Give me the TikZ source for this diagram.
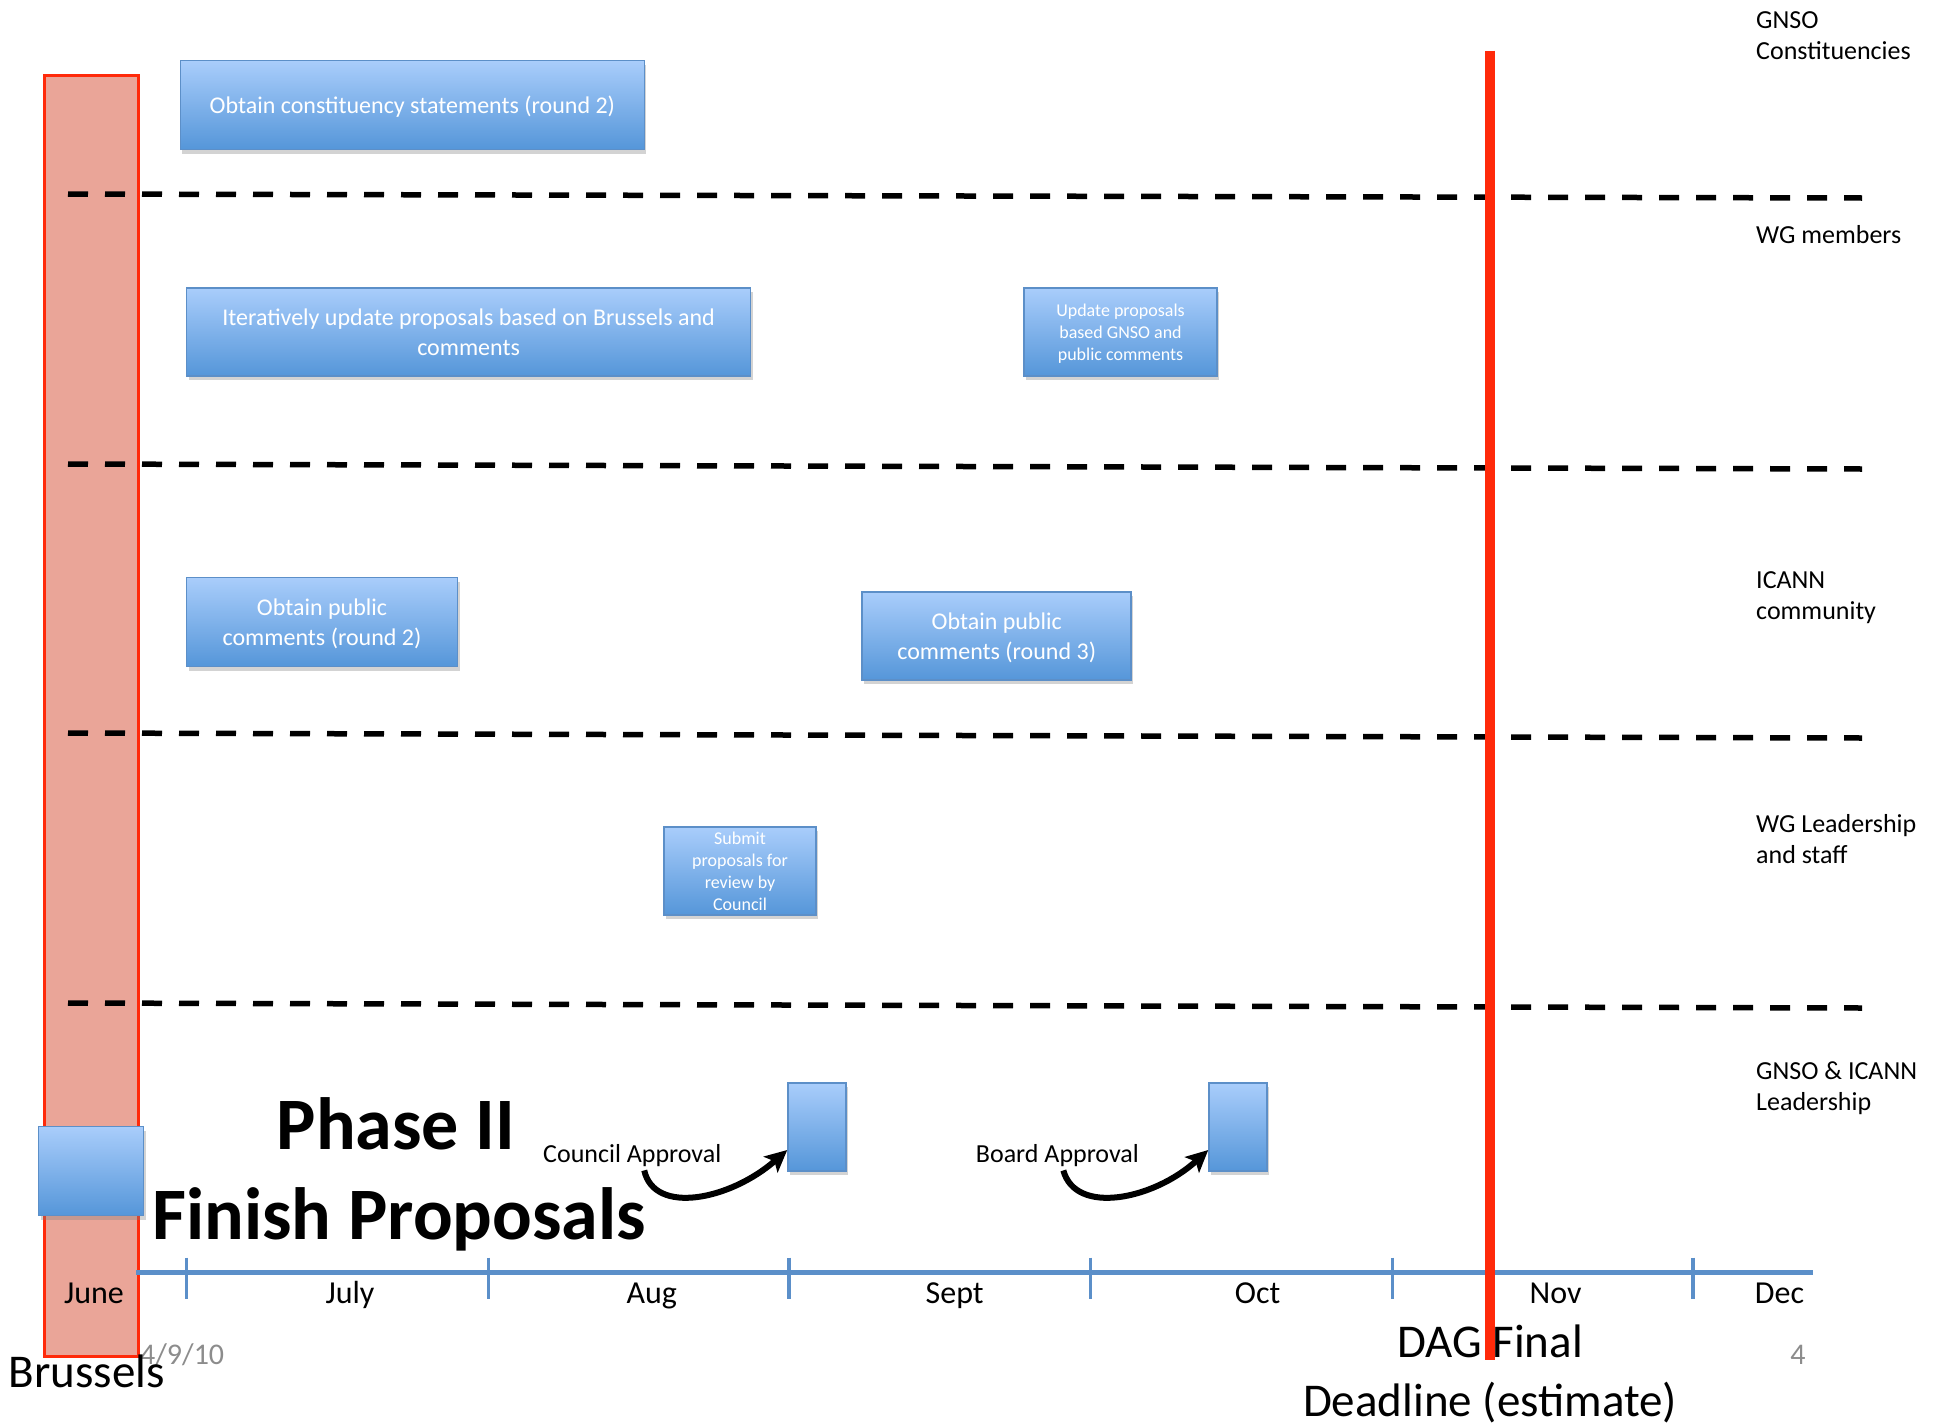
\documentclass[tikz,border=0pt]{standalone}
\usepackage{fontspec}
\setmainfont{Carlito}
\usepackage{xcolor}
\usepackage{tikz}
\usetikzlibrary{arrows.meta,shadows}
\definecolor{boxtop}{HTML}{A9CDFB}
\definecolor{boxbot}{HTML}{5596D9}
\definecolor{boxline}{HTML}{5C8FC8}
\definecolor{brfill}{HTML}{EAA598}
\definecolor{deadred}{HTML}{FF2A0A}
\definecolor{axisblue}{HTML}{5B8FC9}
\definecolor{datagray}{HTML}{8C8C8C}

\begin{document}
\begin{tikzpicture}[x=1pt,y=-1pt]
	\tikzstyle{task}=[rectangle,draw=boxline,line width=1.5pt,top color=boxtop,bottom color=boxbot,text=white,align=center,inner sep=1pt,text depth=0pt,drop shadow={shadow xshift=2pt,shadow yshift=-4pt,opacity=0.35}]
	\tikzstyle{big task}=[task,font=\fontsize{24}{30}\selectfont]
	\tikzstyle{small task}=[task,font=\fontsize{18}{22}\selectfont]
	\tikzstyle{lane}=[anchor=base west,align=left,inner sep=0pt,font=\fontsize{26}{31}\selectfont]
	\tikzstyle{month}=[anchor=base,inner sep=0pt,font=\fontsize{32}{38}\selectfont]
	\tikzstyle{approval}=[-{Stealth[length=22pt,width=21pt,inset=5pt]},line width=6pt,black]
	\tikzstyle{annot}=[anchor=base west,inner sep=0pt,font=\fontsize{26}{31}\selectfont]
	\useasboundingbox (0,0) rectangle (1939,1424);
	
	% Brussels meeting
	\draw[draw=deadred,fill=brfill,line width=2.5pt] (44.5,75.4) rectangle (138.5,1356.5);
	\node[task,minimum width=105pt,minimum height=89pt] (B-box) at (91,1171) {};
	
	% Draw the lane separators
	\foreach \ya / \yb in {194/198,464/469,733/738,1003/1008}
	\draw[black,line width=5.5pt,dash pattern=on 20pt off 17pt] (68,\ya) -- (1862,\yb);
	
	% Tasks in each lane
	\node[big task,minimum width=464pt,minimum height=89pt] (cs-2) at (412.4,105) {Obtain constituency statements (round 2)};
	\node[big task,minimum width=564pt,minimum height=88pt] (upd-1) at (468.6,332) {Iteratively update proposals based on Brussels and\\comments};
	\node[small task,minimum width=193pt,minimum height=88pt] (upd-2) at (1120.5,332) {Update proposals\\based GNSO and\\public comments};
	\node[big task,minimum width=271pt,minimum height=89pt] (pc-2) at (322,622) {Obtain public\\comments (round 2)};
	\node[big task,minimum width=269pt,minimum height=88pt] (pc-3) at (996.7,636) {Obtain public\\comments (round 3)};
	\node[small task,minimum width=152pt,minimum height=88pt] (sub) at (740,871) {Submit\\proposals for\\review by\\Council};
	\node[task,minimum width=58pt,minimum height=88pt] (C-box) at (817,1127) {};
	\node[task,minimum width=58pt,minimum height=88pt] (D-box) at (1238,1127) {};
	
	% Draw the time line
	\draw[axisblue,line width=5pt] (136,1272.5) -- (1813,1272.5);
	\foreach \x in {186.7,488.5,789,1090.7,1392.4,1693}
	\draw[axisblue,line width=3.5pt] (\x,1257.6) -- (\x,1298.5);
	\foreach \name / \x in {June/94,July/350,Aug/651.7,Sept/954.7,Oct/1257.6,Nov/1555.6,Dec/1779.5}
	\node[month] (M-\name) at (\x,1303) {\name};
	
	% Annotate the lanes
	\foreach \name / \y / \txt in {gnso/59.4/{GNSO\\Constituencies},wg/243.6/{WG members},icann/619.6/{ICANN\\community},lead/863/{WG Leadership\\and staff},board/1110.6/{GNSO \& ICANN\\Leadership}}
	\node[lane] (L-\name) at (1756,\y) {\txt};
	
	% Phase title and approvals
	\node[anchor=base,inner sep=0pt,font=\fontsize{74}{80}\selectfont\bfseries] (phase) at (396,1149) {Phase II};
	\node[anchor=base west,inner sep=0pt,font=\fontsize{74}{80}\selectfont\bfseries] (finish) at (152,1239) {Finish Proposals};
	\node[annot] (C-lbl) at (543,1162) {Council Approval};
	\node[annot] (D-lbl) at (975.7,1162) {Board Approval};
	\draw[approval] ([shift={(12,4)}]C-lbl.south) .. controls +(10,45) and +(-57,50) .. ([yshift=-23pt]C-box.west);
	\draw[approval] ([shift={(6,4)}]D-lbl.south) .. controls +(12,45) and +(-55,50) .. ([yshift=-23pt]D-box.west);
	
	% Footer texts
	\node[anchor=base west,inner sep=0pt,text=datagray,font=\fontsize{30}{36}\selectfont] (date) at (140,1364) {4/9/10};
	\node[anchor=base,inner sep=0pt,text=datagray,font=\fontsize{30}{36}\selectfont] (page) at (1798,1364) {4};
	\node[anchor=base west,inner sep=0pt,font=\fontsize{47}{56}\selectfont] (brussels) at (8.7,1387.5) {Brussels};
	\node[anchor=base,align=center,inner sep=0pt,font=\fontsize{47}{59}\selectfont] (dag) at (1490,1416) {DAG Final\\Deadline (estimate)};
	
	% Deadline
	\draw[deadred,line width=10pt] (1490,50.7) -- (1490,1360);
\end{tikzpicture}
\end{document}
